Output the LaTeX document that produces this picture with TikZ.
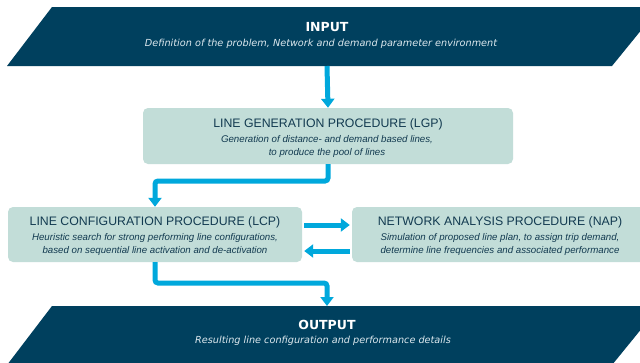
\documentclass[tikz,border=0pt]{standalone}
\usepackage{fontspec}
\setmainfont{Liberation Sans}
\newfontfamily\dejavu{DejaVu Sans}
\usetikzlibrary{arrows.meta}
\definecolor{navy}{RGB}{0,64,94}
\definecolor{boxfill}{RGB}{194,221,216}
\definecolor{flow}{RGB}{0,168,220}
\definecolor{boxtext}{RGB}{18,58,80}
\definecolor{subwhite}{RGB}{220,232,238}
\tikzset{
  iobox/.style={fill=navy,draw=none},
  procbox/.style={fill=boxfill,draw=none,rounded corners=5pt},
  iotitle/.style={text=white,font=\dejavu\bfseries\fontsize{12.5}{14}\selectfont,inner sep=0pt},
  iosub/.style={text=subwhite,font=\dejavu\itshape\fontsize{9.7}{12}\selectfont,inner sep=0pt},
  ptitle/.style={text=boxtext,font=\fontsize{12.3}{14}\selectfont,inner sep=0pt},
  psub/.style={text=boxtext,font=\itshape\fontsize{9.7}{13}\selectfont,inner sep=0pt,align=center},
  flowarrow/.style={draw=flow,line width=5pt,rounded corners=3pt,-{Triangle[width=13pt,length=9pt]}}
}
\begin{document}
\begin{tikzpicture}[x=1pt,y=-1pt]
\useasboundingbox[fill=white] (0,0) rectangle (640,362);
% INPUT
\fill[iobox] (52,7) -- (660,7) -- (612,66) -- (7,66) -- cycle;
\node[iotitle] (intitle) at (327,27) {INPUT};
\node[iosub] (insub) at (321,44) {Definition of the problem, Network and demand parameter environment};
\coordinate (inbot) at (327,66);
% OUTPUT
\fill[iobox] (52,306) -- (660,306) -- (612,365) -- (7,365) -- cycle;
\node[iotitle] (outtitle) at (327,325) {OUTPUT};
\node[iosub] (outsub) at (323,341) {Resulting line configuration and performance details};
\coordinate (outtop) at (327,306);
% LGP
\node[procbox,minimum width=370pt,minimum height=56pt,inner sep=0pt] (lgp) at (328,136) {};
\node[ptitle] (lgpt) at (328,124) {LINE GENERATION PROCEDURE (LGP)};
\node[psub] (lgps) at (327,146) {Generation of distance- and demand based lines,\\to produce the pool of lines};
% LCP
\node[procbox,minimum width=294pt,minimum height=55pt,inner sep=0pt] (lcp) at (155,234.5) {};
\node[ptitle] (lcpt) at (155,222) {LINE CONFIGURATION PROCEDURE (LCP)};
\node[psub] (lcps) at (155,244) {Heuristic search for strong performing line configurations,\\based on sequential line activation and de-activation};
% NAP
\node[procbox,minimum width=300pt,minimum height=55pt,inner sep=0pt] (nap) at (502,234.5) {};
\node[ptitle] (napt) at (500,222) {NETWORK ANALYSIS PROCEDURE (NAP)};
\node[psub] (naps) at (500,244) {Simulation of proposed line plan, to assign trip demand,\\determine line frequencies and associated performance};
% arrows
\draw[flowarrow] (inbot) -- (lgp.north);
\draw[flowarrow] (lgp.south) -- (328,181) -- (155,181) -- (lcp.north);
\draw[flowarrow] ([xshift=2pt,yshift=9.5pt]lcp.east) -- ([xshift=-2pt,yshift=9.5pt]nap.west);
\draw[flowarrow] ([xshift=-2pt,yshift=-16.5pt]nap.west) -- ([xshift=2pt,yshift=-16.5pt]lcp.east);
\draw[flowarrow] (lcp.south) -- (155,283) -- (327,283) -- (outtop);
\end{tikzpicture}
\end{document}
